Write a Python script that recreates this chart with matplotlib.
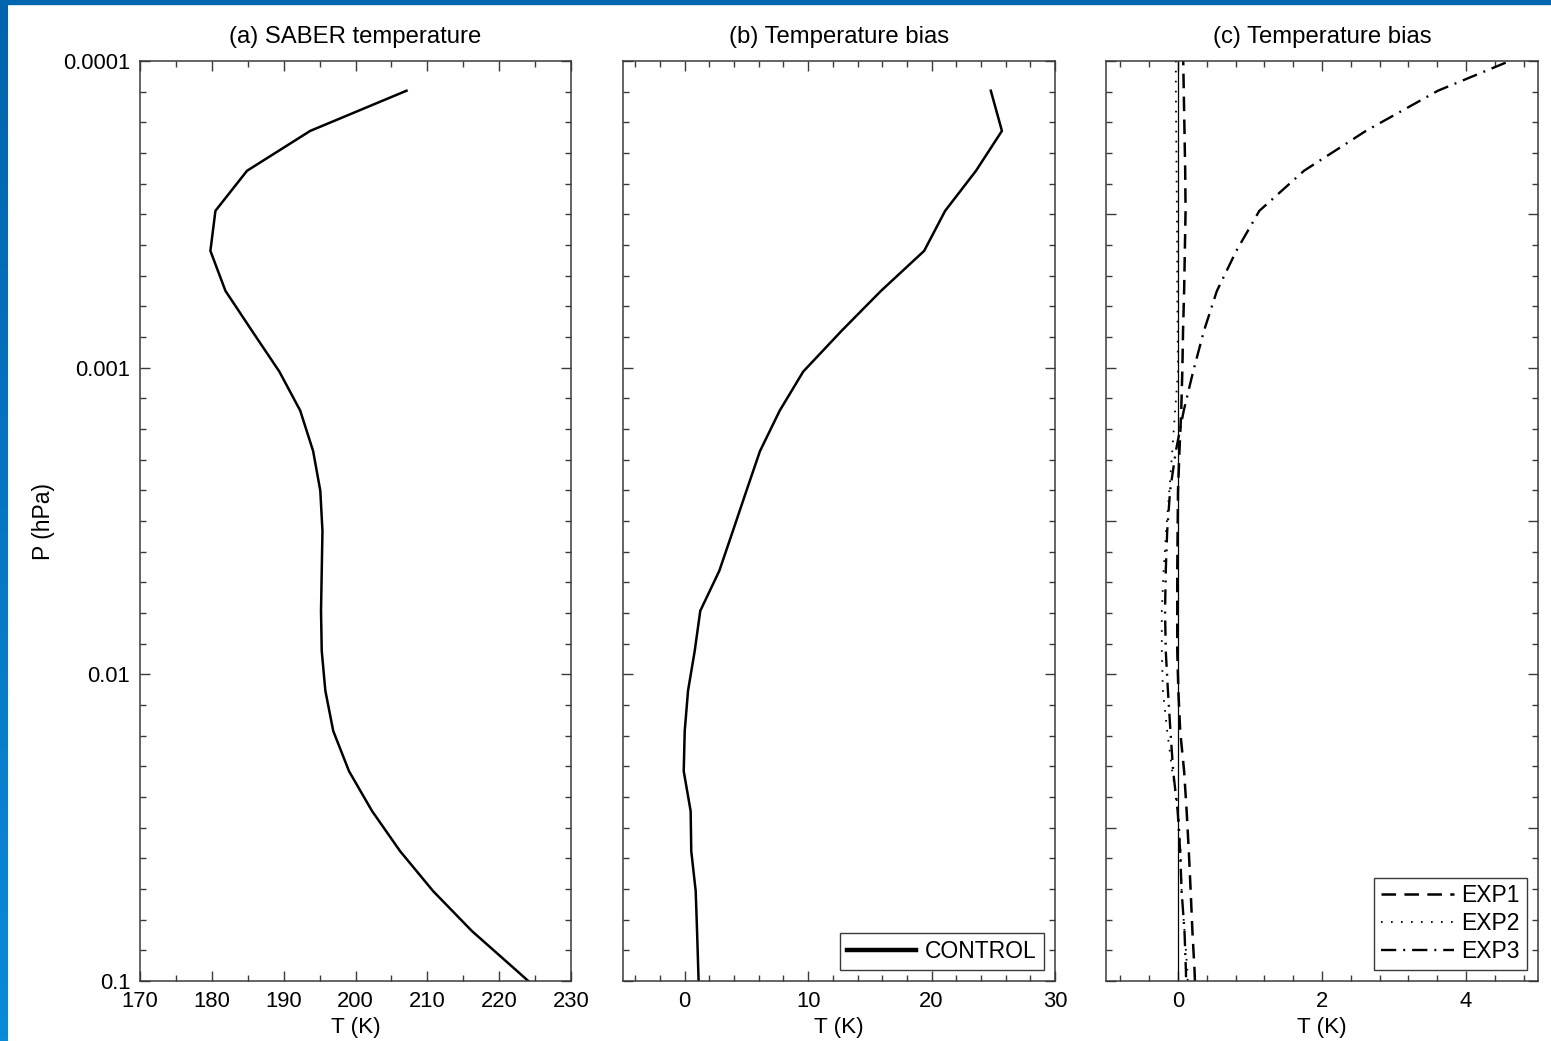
import numpy as np
import matplotlib.pyplot as plt
from matplotlib.lines import Line2D
from matplotlib.patches import Rectangle
from matplotlib.colors import LinearSegmentedColormap

plt.rcParams['font.family'] = ['Liberation Sans', 'DejaVu Sans']
plt.rcParams['lines.scale_dashes'] = False

# Pressure levels (hPa); last level lies just below the plotted range
p_lev = [1.25e-4, 1.69e-4, 2.28e-4, 3.08e-4, 4.16e-4, 5.62e-4, 7.59e-4,
         1.03e-3, 1.38e-3, 1.87e-3, 2.52e-3, 3.41e-3, 4.60e-3, 6.21e-3,
         8.39e-3, 1.13e-2, 1.53e-2, 2.07e-2, 2.79e-2, 3.77e-2, 5.09e-2,
         6.87e-2, 9.28e-2, 0.125]
# experiment profiles also have one level above 1e-4 hPa
p_exp = [9.26e-5] + p_lev

# (a) SABER temperature (K)
saber_t = [207.1, 193.7, 184.9, 180.5, 179.8, 181.9, 185.6, 189.4, 192.3,
           194.1, 195.1, 195.4, 195.3, 195.2, 195.3, 195.8, 196.9, 199.1,
           202.3, 206.2, 210.8, 216.2, 222.5, 228.7]

# (b) CONTROL bias (K)
control_bias = [24.8, 25.7, 23.6, 21.1, 19.4, 15.9, 12.7, 9.6, 7.7, 6.1,
                5.0, 3.9, 2.8, 1.26, 0.81, 0.27, 0.0, -0.08, 0.48, 0.53,
                0.89, 1.0, 1.1, 1.2]

# (c) experiment biases (K)
exp1_bias = [0.07, 0.08, 0.09, 0.10, 0.105, 0.095, 0.085, 0.07, 0.06, 0.045,
             0.02, 0.0, -0.005, -0.01, -0.01, -0.01, 0.005, 0.03, 0.085,
             0.12, 0.15, 0.176, 0.2, 0.23, 0.25]
exp2_bias = [-0.03, -0.03, -0.025, -0.02, -0.015, -0.01, -0.01, -0.005, 0.0,
             -0.04, -0.08, -0.12, -0.165, -0.2, -0.225, -0.225, -0.21, -0.15,
             -0.08, 0.005, 0.035, 0.05, 0.09, 0.13, 0.15]
exp3_bias = [4.95, 3.61, 2.61, 1.75, 1.13, 0.81, 0.54, 0.36, 0.21, 0.08,
             -0.03, -0.11, -0.15, -0.17, -0.18, -0.17, -0.14, -0.105, -0.067,
             -0.005, 0.03, 0.05, 0.09, 0.11, 0.12]

W, H = 1551, 1041
fig = plt.figure(figsize=(W / 100, H / 100), dpi=100)


def box(x0, x1, y0, y1):
    return [x0 / W, 1 - y1 / H, (x1 - x0) / W, (y1 - y0) / H]


spine_c = '#3a3a3a'
dec_ticks = [1e-4, 1e-3, 1e-2, 1e-1]
minor_y = [10 ** (k + j / 10) for k in range(-4, -1) for j in range(1, 10)]


def style(ax, xlim, xmajor, xminor, ymajor, yminor):
    ax.set_yscale('log')
    ax.set_ylim(0.1, 1e-4)
    ax.set_xlim(*xlim)
    ax.set_xticks(xmajor)
    ax.set_xticks(xminor, minor=True)
    ax.set_yticks(ymajor)
    ax.set_yticks(yminor, minor=True)
    ax.yaxis.set_minor_formatter(plt.NullFormatter())
    ax.tick_params(which='both', direction='in', top=True, right=True,
                   color=spine_c, width=1.0, labelsize=15.8, pad=7)
    ax.tick_params(which='major', length=7.5)
    ax.tick_params(which='minor', length=4)
    for s in ax.spines.values():
        s.set_color(spine_c)
        s.set_linewidth(1.1)
    ax.set_xlabel('T (K)', fontsize=16.2, labelpad=4)


# panel (a)
ax_a = fig.add_axes(box(140, 571, 61, 981))
ax_a.plot(saber_t, p_lev, color='k', lw=1.8)
style(ax_a, (170, 230), np.arange(170, 231, 10), np.arange(175, 230, 10),
      dec_ticks, minor_y)
ax_a.set_yticklabels(['0.0001', '0.001', '0.01', '0.1'])
ax_a.tick_params(axis='y', pad=7)
ax_a.set_ylabel('P (hPa)', fontsize=16.5, labelpad=6)
ax_a.set_title('(a) SABER temperature', fontsize=17.2, pad=13)

# panel (b)
ax_b = fig.add_axes(box(623, 1055, 61, 981))
ax_b.plot(control_bias, p_lev, color='k', lw=1.8)
style(ax_b, (-5, 30), [0, 10, 20, 30],
      [-4, -2, 2, 4, 6, 8, 12, 14, 16, 18, 22, 24, 26, 28],
      dec_ticks, minor_y)
ax_b.set_yticklabels([])
ax_b.set_title('(b) Temperature bias', fontsize=17.2, pad=13)
leg_b = ax_b.legend([Line2D([], [], color='k', lw=3.2)], ['CONTROL'],
                    loc='lower right', fontsize=16.5, fancybox=False,
                    edgecolor=spine_c, framealpha=1, handlelength=3.0,
                    handletextpad=0.4, borderpad=0.3, borderaxespad=0.5)
leg_b.get_frame().set_linewidth(1.0)

# panel (c)
ax_c = fig.add_axes(box(1106, 1538, 61, 981))
ax_c.axvline(0, color='k', lw=0.9)
ax_c.plot(exp1_bias, p_exp, color='k', lw=1.8, dashes=(10.5, 6), label='EXP1')
ax_c.plot(exp2_bias, p_exp, color='k', lw=1.3, dashes=(1.2, 6), label='EXP2')
ax_c.plot(exp3_bias, p_exp, color='k', lw=1.7, dashes=(11, 5, 1.4, 5),
          label='EXP3')
half_dec = [1e-4, 10 ** -3.5, 1e-3, 10 ** -2.5, 1e-2, 10 ** -1.5, 1e-1]
minor_c = [v for v in minor_y if not any(abs(v / h - 1) < 1e-6 for h in half_dec)]
style(ax_c, (-1, 5), [0, 2, 4],
      [-0.8, -0.4, 0.4, 0.8, 1.2, 1.6, 2.4, 2.8, 3.2, 3.6, 4.4, 4.8],
      half_dec, minor_c)
ax_c.set_yticklabels([])
ax_c.set_title('(c) Temperature bias', fontsize=17.2, pad=13)
leg_c = ax_c.legend(loc='lower right', fontsize=16.5, fancybox=False,
                    edgecolor=spine_c, framealpha=1, handlelength=3.2,
                    handletextpad=0.3, borderpad=0.3, labelspacing=0.2,
                    borderaxespad=0.5)
leg_c.get_frame().set_linewidth(1.0)

# blue frame along the left and top edges
bar = fig.add_axes([0, 0, 8 / W, 1])
grad = np.linspace(0, 1, 256)[:, None]
cmap = LinearSegmentedColormap.from_list('edge', ['#0063ad', '#0a8ada'])
bar.imshow(grad, aspect='auto', cmap=cmap, extent=[0, 1, 0, 1])
bar.set_axis_off()
fig.patches.append(Rectangle((0, 1 - 4 / H), 1, 4 / H, transform=fig.transFigure,
                             color='#0066b0', zorder=10))

fig.savefig('out.png', dpi=100, facecolor='white')
